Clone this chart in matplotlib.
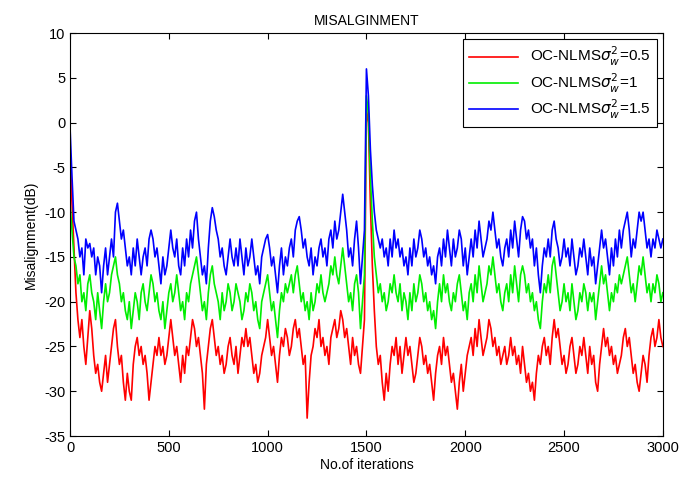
import matplotlib
matplotlib.use("Agg")
import matplotlib.pyplot as plt
import numpy as np

plt.rcParams['font.family'] = ['Liberation Sans', 'DejaVu Sans']
plt.rcParams['axes.unicode_minus'] = False

step = 10
blue = [
    -0.5, -6, -11, -12, -13, -15, -14, -17, -13, -14,
    -13.5, -15, -14, -17, -15, -16, -19, -16, -14, -17,
    -15, -13, -15, -10, -9, -11, -13, -12, -14, -16,
    -15, -17, -14, -16, -13, -15, -17, -15, -14, -16,
    -13, -12, -13, -15, -14, -16, -18, -15, -17, -16,
    -14, -12, -14, -15, -13, -16, -17, -14, -16, -13,
    -15, -12, -14, -11, -10, -13, -15, -17, -16, -18,
    -14, -11, -9.5, -10.5, -12, -13, -15, -14, -16, -17,
    -15, -13, -15, -16, -14, -16, -13, -15, -17, -14,
    -16, -15, -13, -15, -17, -16, -18, -15, -14, -13,
    -12.5, -14, -16, -15, -17, -19, -16, -14, -17, -15,
    -16, -14, -13, -15, -12, -11, -10.5, -12, -14, -13,
    -15, -16, -14, -17, -15, -16, -14, -13, -15, -14,
    -16, -13, -12, -14, -11, -13, -12, -10, -8, -10,
    -12, -15, -14, -16, -13, -11, -14, -18, -15, -12,
    6, 3, -3, -7, -10, -12, -13, -14, -13, -15,
    -14, -16, -13, -15, -12, -14, -13, -15, -14, -16,
    -15, -17, -14, -16, -13, -15, -14, -12, -13, -15,
    -14, -16, -15, -17, -16, -18, -15, -14, -16, -13,
    -15, -12, -14, -16, -13, -15, -14, -12, -13, -16,
    -14, -17, -15, -13, -15, -12, -14, -11, -13, -15,
    -14, -13, -11, -12, -10, -12, -14, -13, -15, -16,
    -14, -13, -15, -12, -14, -11, -13, -15, -12, -10.5,
    -11, -13, -12, -14, -13, -16, -14, -17, -19, -16,
    -14, -15, -13, -15, -12, -11, -13, -14, -16, -15,
    -13, -15, -14, -16, -13, -15, -17, -16, -14, -15,
    -13, -15, -17, -14, -16, -15, -18, -16, -14, -12,
    -14, -13, -15, -17, -14, -16, -13, -15, -12, -14,
    -12, -11, -10, -12, -15, -13, -14, -12, -10, -11,
    -10, -12, -14, -13, -15, -13, -14, -12, -13, -14,
    -13,
]
green = [
    -9, -12, -15, -16, -18, -17, -20, -19, -21, -18,
    -17, -19, -20, -22, -19, -21, -23, -20, -18, -20,
    -19, -17, -16, -15, -17, -18, -20, -19, -21, -22,
    -20, -23, -21, -19, -20, -22, -19, -18, -20, -21,
    -19, -17, -18, -20, -19, -21, -22, -20, -23, -21,
    -19, -18, -20, -19, -17, -19, -21, -20, -22, -19,
    -20, -18, -17, -16, -15, -17, -19, -21, -20, -22,
    -19, -17, -16, -18, -19, -20, -22, -19, -21, -20,
    -18, -19, -21, -20, -18, -19, -20, -22, -21, -19,
    -20, -18, -19, -21, -20, -22, -23, -20, -19, -18,
    -17, -19, -21, -20, -22, -24, -21, -19, -20, -18,
    -19, -18, -17, -19, -17, -16, -18, -20, -19, -21,
    -20, -22, -19, -21, -20, -18, -19, -17, -19, -20,
    -19, -18, -16, -17, -15, -17, -18, -16, -14, -16,
    -18, -20, -19, -21, -18, -17, -19, -23, -20, -17,
    3, 1, -6, -11, -15, -17, -19, -18, -20, -19,
    -21, -20, -18, -19, -17, -19, -20, -18, -21, -19,
    -20, -22, -19, -21, -18, -20, -19, -17, -18, -20,
    -19, -21, -20, -22, -21, -23, -20, -18, -20, -17,
    -19, -18, -20, -21, -19, -20, -18, -17, -19, -21,
    -20, -22, -19, -18, -20, -17, -19, -16, -18, -20,
    -19, -18, -16, -17, -15, -17, -19, -18, -20, -21,
    -19, -18, -20, -17, -19, -16, -18, -20, -17, -16,
    -17, -19, -18, -20, -19, -21, -20, -22, -23, -20,
    -18, -19, -17, -19, -16, -15, -17, -19, -21, -20,
    -18, -20, -19, -21, -18, -20, -22, -21, -19, -20,
    -18, -19, -21, -19, -20, -19, -22, -20, -18, -16,
    -18, -17, -19, -21, -19, -20, -18, -19, -17, -18,
    -17, -16, -15, -17, -19, -18, -20, -18, -16, -17,
    -15, -17, -19, -18, -20, -18, -19, -17, -18, -20,
    -19,
]
red = [
    -3, -9, -14, -19, -22, -24, -22, -25, -27, -24,
    -21, -23, -26, -28, -27, -29, -30, -28, -26, -29,
    -27, -25, -23, -22, -25, -27, -26, -29, -31, -28,
    -30, -31, -27, -25, -24, -26, -25, -27, -26, -28,
    -31, -29, -27, -25, -26, -24, -26, -25, -27, -26,
    -24, -22, -24, -26, -25, -27, -29, -26, -28, -25,
    -26, -24, -22, -23, -25, -24, -26, -28, -32, -27,
    -25, -23, -22, -24, -26, -25, -27, -26, -28, -27,
    -25, -24, -26, -27, -25, -28, -26, -24, -25, -23,
    -25, -24, -26, -28, -27, -29, -28, -26, -25, -24,
    -22, -24, -26, -25, -27, -29, -26, -24, -25, -23,
    -24, -26, -25, -23, -22, -24, -23, -25, -27, -26,
    -33, -29, -26, -25, -23, -24, -22, -25, -24, -26,
    -25, -27, -24, -23, -22, -24, -23, -21, -22, -24,
    -23, -25, -27, -24, -26, -25, -27, -28, -25, -22,
    1.5, 0, -9, -16, -21, -25, -27, -26, -29, -31,
    -28, -30, -27, -25, -26, -24, -27, -25, -28, -26,
    -24, -26, -25, -27, -29, -28, -26, -24, -25, -27,
    -26, -28, -27, -29, -31, -28, -26, -25, -27, -24,
    -26, -25, -27, -29, -28, -30, -32, -29, -27, -30,
    -28, -26, -25, -24, -26, -23, -25, -22, -24, -26,
    -25, -24, -22, -23, -25, -24, -26, -25, -27, -26,
    -25, -27, -26, -24, -26, -25, -27, -26, -28, -25,
    -27, -29, -28, -30, -29, -31, -28, -26, -27, -25,
    -24, -26, -25, -27, -24, -22, -24, -23, -25, -27,
    -26, -28, -27, -25, -24, -26, -28, -27, -25, -26,
    -24, -26, -28, -25, -27, -26, -29, -30, -27, -25,
    -23, -25, -24, -26, -25, -27, -26, -28, -27, -26,
    -24, -23, -25, -24, -26, -28, -27, -29, -30, -28,
    -26, -27, -29, -26, -24, -23, -25, -24, -22, -24,
    -25,
]
labels = [r'OC-NLMS$\sigma^2_w$=0.5', r'OC-NLMS$\sigma^2_w$=1', r'OC-NLMS$\sigma^2_w$=1.5']
colors = ['#ff0000', '#00ee00', '#0000ff']

iters = np.arange(len(blue)) * step

fig = plt.figure(figsize=(6.83, 4.82), dpi=100)
ax = fig.add_axes([0.1025, 0.0954, 0.868, 0.836])
for y, c, lab in zip([red, green, blue], colors, labels):
    ax.plot(iters, y, color=c, lw=1.2, label=lab)

ax.set_xlim(0, 3000)
ax.set_ylim(-35, 10)
ax.set_xticks(np.arange(0, 3001, 500))
ax.set_yticks(np.arange(-35, 11, 5))
ax.tick_params(direction='in', top=True, right=True, labelsize=10.5, length=4)
ax.set_title('MISALGINMENT', fontsize=10)
ax.set_xlabel('No.of iterations', fontsize=10, labelpad=2)
ax.set_ylabel('Misalignment(dB)', fontsize=10)
leg = ax.legend(loc='upper right', fontsize=11, fancybox=False, edgecolor='black',
                framealpha=1, handlelength=3.2, borderaxespad=0.4, labelspacing=0.2)
leg.get_frame().set_linewidth(0.8)

fig.savefig('out.png', dpi=100)
